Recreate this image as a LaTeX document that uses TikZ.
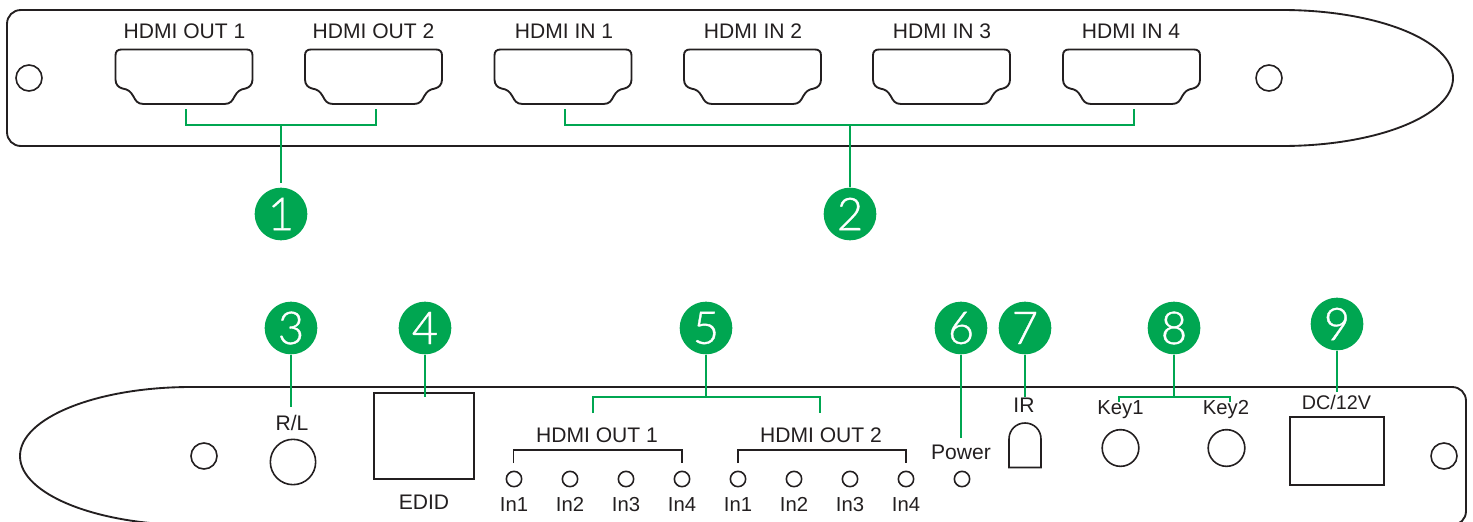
\documentclass[tikz,border=0pt]{standalone}
\usepackage{fontspec}
\setmainfont{Liberation Sans}
\newfontfamily\digitfont[FakeBold=0.8]{Lato Light}
\definecolor{gr}{HTML}{00A651}
\definecolor{ink}{HTML}{231F20}
\tikzset{
  px/.style={x=0.75pt,y=-0.75pt},
  part/.style={draw=ink,line width=1.4pt,fill=none},
  thin part/.style={draw=ink,line width=1.2pt,fill=none},
  hole/.style={circle,draw=ink,line width=1.2pt,fill=white,inner sep=0pt,minimum size=19.5pt},
  led/.style={circle,draw=ink,line width=1.2pt,inner sep=0pt,minimum size=11.5pt},
  lbl/.style={text=ink,inner sep=0pt,font=\fontsize{15.8pt}{16pt}\selectfont},
  small lbl/.style={text=ink,inner sep=0pt,font=\fontsize{15.2pt}{16pt}\selectfont},
  badge/.style={circle,fill=gr,text=white,inner sep=0pt,minimum size=39.5pt,font=\digitfont\fontsize{34pt}{36pt}\selectfont},
  lead/.style={draw=gr,line width=0.95pt},
  brk/.style={draw=ink,line width=1.05pt},
}
\newcommand{\hdmiport}[1]{%
  \draw[part,shift={(#1,49.5)}] (6,0) -- (131,0) .. controls (135,0) and (137,2) .. (137,6)
    -- (137,30) .. controls (137,35) and (134,38) .. (130,39)
    .. controls (124,40) and (122,42) .. (119,47)
    .. controls (117,51) and (115,54.5) .. (109,54.5)
    -- (28,54.5) .. controls (22,54.5) and (20,51) .. (18,47)
    .. controls (15,42) and (13,40) .. (7,39)
    .. controls (3,38) and (0,35) .. (0,30)
    -- (0,6) .. controls (0,2) and (2,0) .. (6,0) -- cycle;}
\begin{document}
\begin{tikzpicture}[px]
\useasboundingbox (0,0) rectangle (1473,521);
\clip (0,0) rectangle (1473,521);
% top panel
\draw[part] (21,10) -- (1282,10)
  .. controls (1376.5,10) and (1453,40.4) .. (1453,78)
  .. controls (1453,115.6) and (1376.5,146) .. (1282,146)
  -- (21,146) .. controls (13,146) and (7,140) .. (7,132)
  -- (7,24) .. controls (7,16) and (13,10) .. (21,10) -- cycle;
% bottom panel
\draw[part] (191,387) -- (1452,387)
  .. controls (1460,387) and (1466,393) .. (1466,401)
  -- (1466,511) .. controls (1466,519) and (1460,525) .. (1452,525)
  -- (191,525)
  .. controls (96.5,525) and (20,494.1) .. (20,456)
  .. controls (20,417.9) and (96.5,387) .. (191,387) -- cycle;
% holes
\node[hole] (h1) at (29,78) {};
\node[hole] (h2) at (1269,78) {};
\node[hole] (h3) at (204,456) {};
\node[hole] (h4) at (1444,456) {};
% ports
\hdmiport{115.5}\hdmiport{305}\hdmiport{494.5}\hdmiport{684}\hdmiport{873}\hdmiport{1063}
% top labels
\node[lbl] (t1) at (184.5,31) {HDMI OUT 1};
\node[lbl] (t2) at (373.5,31) {HDMI OUT 2};
\node[lbl] (t3) at (564,31) {HDMI IN 1};
\node[lbl] (t4) at (753,31) {HDMI IN 2};
\node[lbl] (t5) at (942,31) {HDMI IN 3};
\node[lbl] (t6) at (1131,31) {HDMI IN 4};
% badges
\node[badge] (c1) at (281,214) {1};
\node[badge] (c2) at (850,214) {2};
\node[badge] (c3) at (291,328) {3};
\node[badge] (c4) at (425,328) {4};
\node[badge] (c5) at (706,328) {5};
\node[badge] (c6) at (961,328) {6};
\node[badge] (c7) at (1025,328) {7};
\node[badge] (c8) at (1174,328) {8};
\node[badge] (c9) at (1337,324) {9};
% bottom parts
\node[circle,draw=ink,line width=1.2pt,inner sep=0pt,minimum size=34pt] (rl) at (293,462) {};
\node[rectangle,draw=ink,line width=1.4pt,inner sep=0pt,minimum width=74.5pt,minimum height=64.5pt] (edid) at (424,436) {};
\node[circle,draw=ink,line width=1.2pt,inner sep=0pt,minimum size=27.5pt] (k1) at (1120.5,448) {};
\node[circle,draw=ink,line width=1.2pt,inner sep=0pt,minimum size=27.5pt] (k2) at (1226.5,448) {};
\node[rectangle,draw=ink,line width=1.4pt,inner sep=0pt,minimum width=70pt,minimum height=51pt] (dc) at (1337,451) {};
\draw[thin part] (1009,467.5) -- (1009,439) .. controls (1009,430) and (1016,423) .. (1025,423)
  .. controls (1034,423) and (1041,430) .. (1041,439) -- (1041,467.5) -- cycle;
% bottom labels
\node[lbl] (lrl) at (292,423) {R/L};
\node[lbl] (led) at (424,502) {EDID};
\node[lbl] (lo1) at (597,435) {HDMI OUT 1};
\node[lbl] (lo2) at (821,435) {HDMI OUT 2};
\node[lbl] (lpw) at (961,452) {Power};
\node[lbl] (lir) at (1024,405) {IR};
\node[small lbl] (lk1) at (1120.5,410) {Key1};
\node[small lbl] (lk2) at (1226,410) {Key2};
\node[small lbl,font=\fontsize{14.8pt}{16pt}\selectfont] (ldc) at (1336.5,402) {DC/12V};
% LEDs and labels
\foreach \n/\x/\t in {a/514/In1,b/570/In2,c/626/In3,d/682/In4,e/738/In1,f/794/In2,g/850/In3,i/906/In4}{
  \node[led] (led\n) at (\x,479) {};
  \node[small lbl,anchor=base] (in\n) at (\x,511) {\t};
}
\node[led] (ledp) at (962,479) {};
% black brackets
\coordinate (ba) at (513.5,463); \coordinate (bd) at (682,463);
\coordinate (be) at (738,463); \coordinate (bi) at (906,463);
\draw[brk] (ba) -- (513.5,450) -- (682,450) -- (bd);
\draw[brk] (be) -- (738,450) -- (906,450) -- (bi);
% green leaders
\coordinate (a1) at (186,109); \coordinate (a2) at (376,109); \coordinate (j1) at (281,125);
\draw[lead] (a1) -- (186,125) -- (376,125) -- (a2);
\draw[lead] (j1) -- (281,183);
\coordinate (a3) at (565,109); \coordinate (a4) at (1134,109); \coordinate (j2) at (850,125);
\draw[lead] (a3) -- (565,125) -- (1134,125) -- (a4);
\draw[lead] (j2) -- (c2.north);
\coordinate (e3) at (291,407); \draw[lead] (c3.south) -- (e3);
\coordinate (e4) at (425,397); \draw[lead] (c4.south) -- (e4);
\coordinate (j5) at (706,397); \coordinate (a5) at (593,413); \coordinate (a6) at (820,413);
\draw[lead] (c5.south) -- (j5);
\draw[lead] (a5) -- (593,397) -- (820,397) -- (a6);
\coordinate (e6) at (961,438); \draw[lead] (c6.south) -- (e6);
\coordinate (e7) at (1025,397); \draw[lead] (c7.south) -- (e7);
\coordinate (j8) at (1174,397); \coordinate (a8) at (1119,402); \coordinate (a9) at (1230,402);
\draw[lead] (c8.south) -- (j8);
\draw[lead] (a8) -- (1119,397) -- (1230,397) -- (a9);
\coordinate (e9) at (1337,392); \draw[lead] (c9.south) -- (e9);
\end{tikzpicture}
\end{document}
